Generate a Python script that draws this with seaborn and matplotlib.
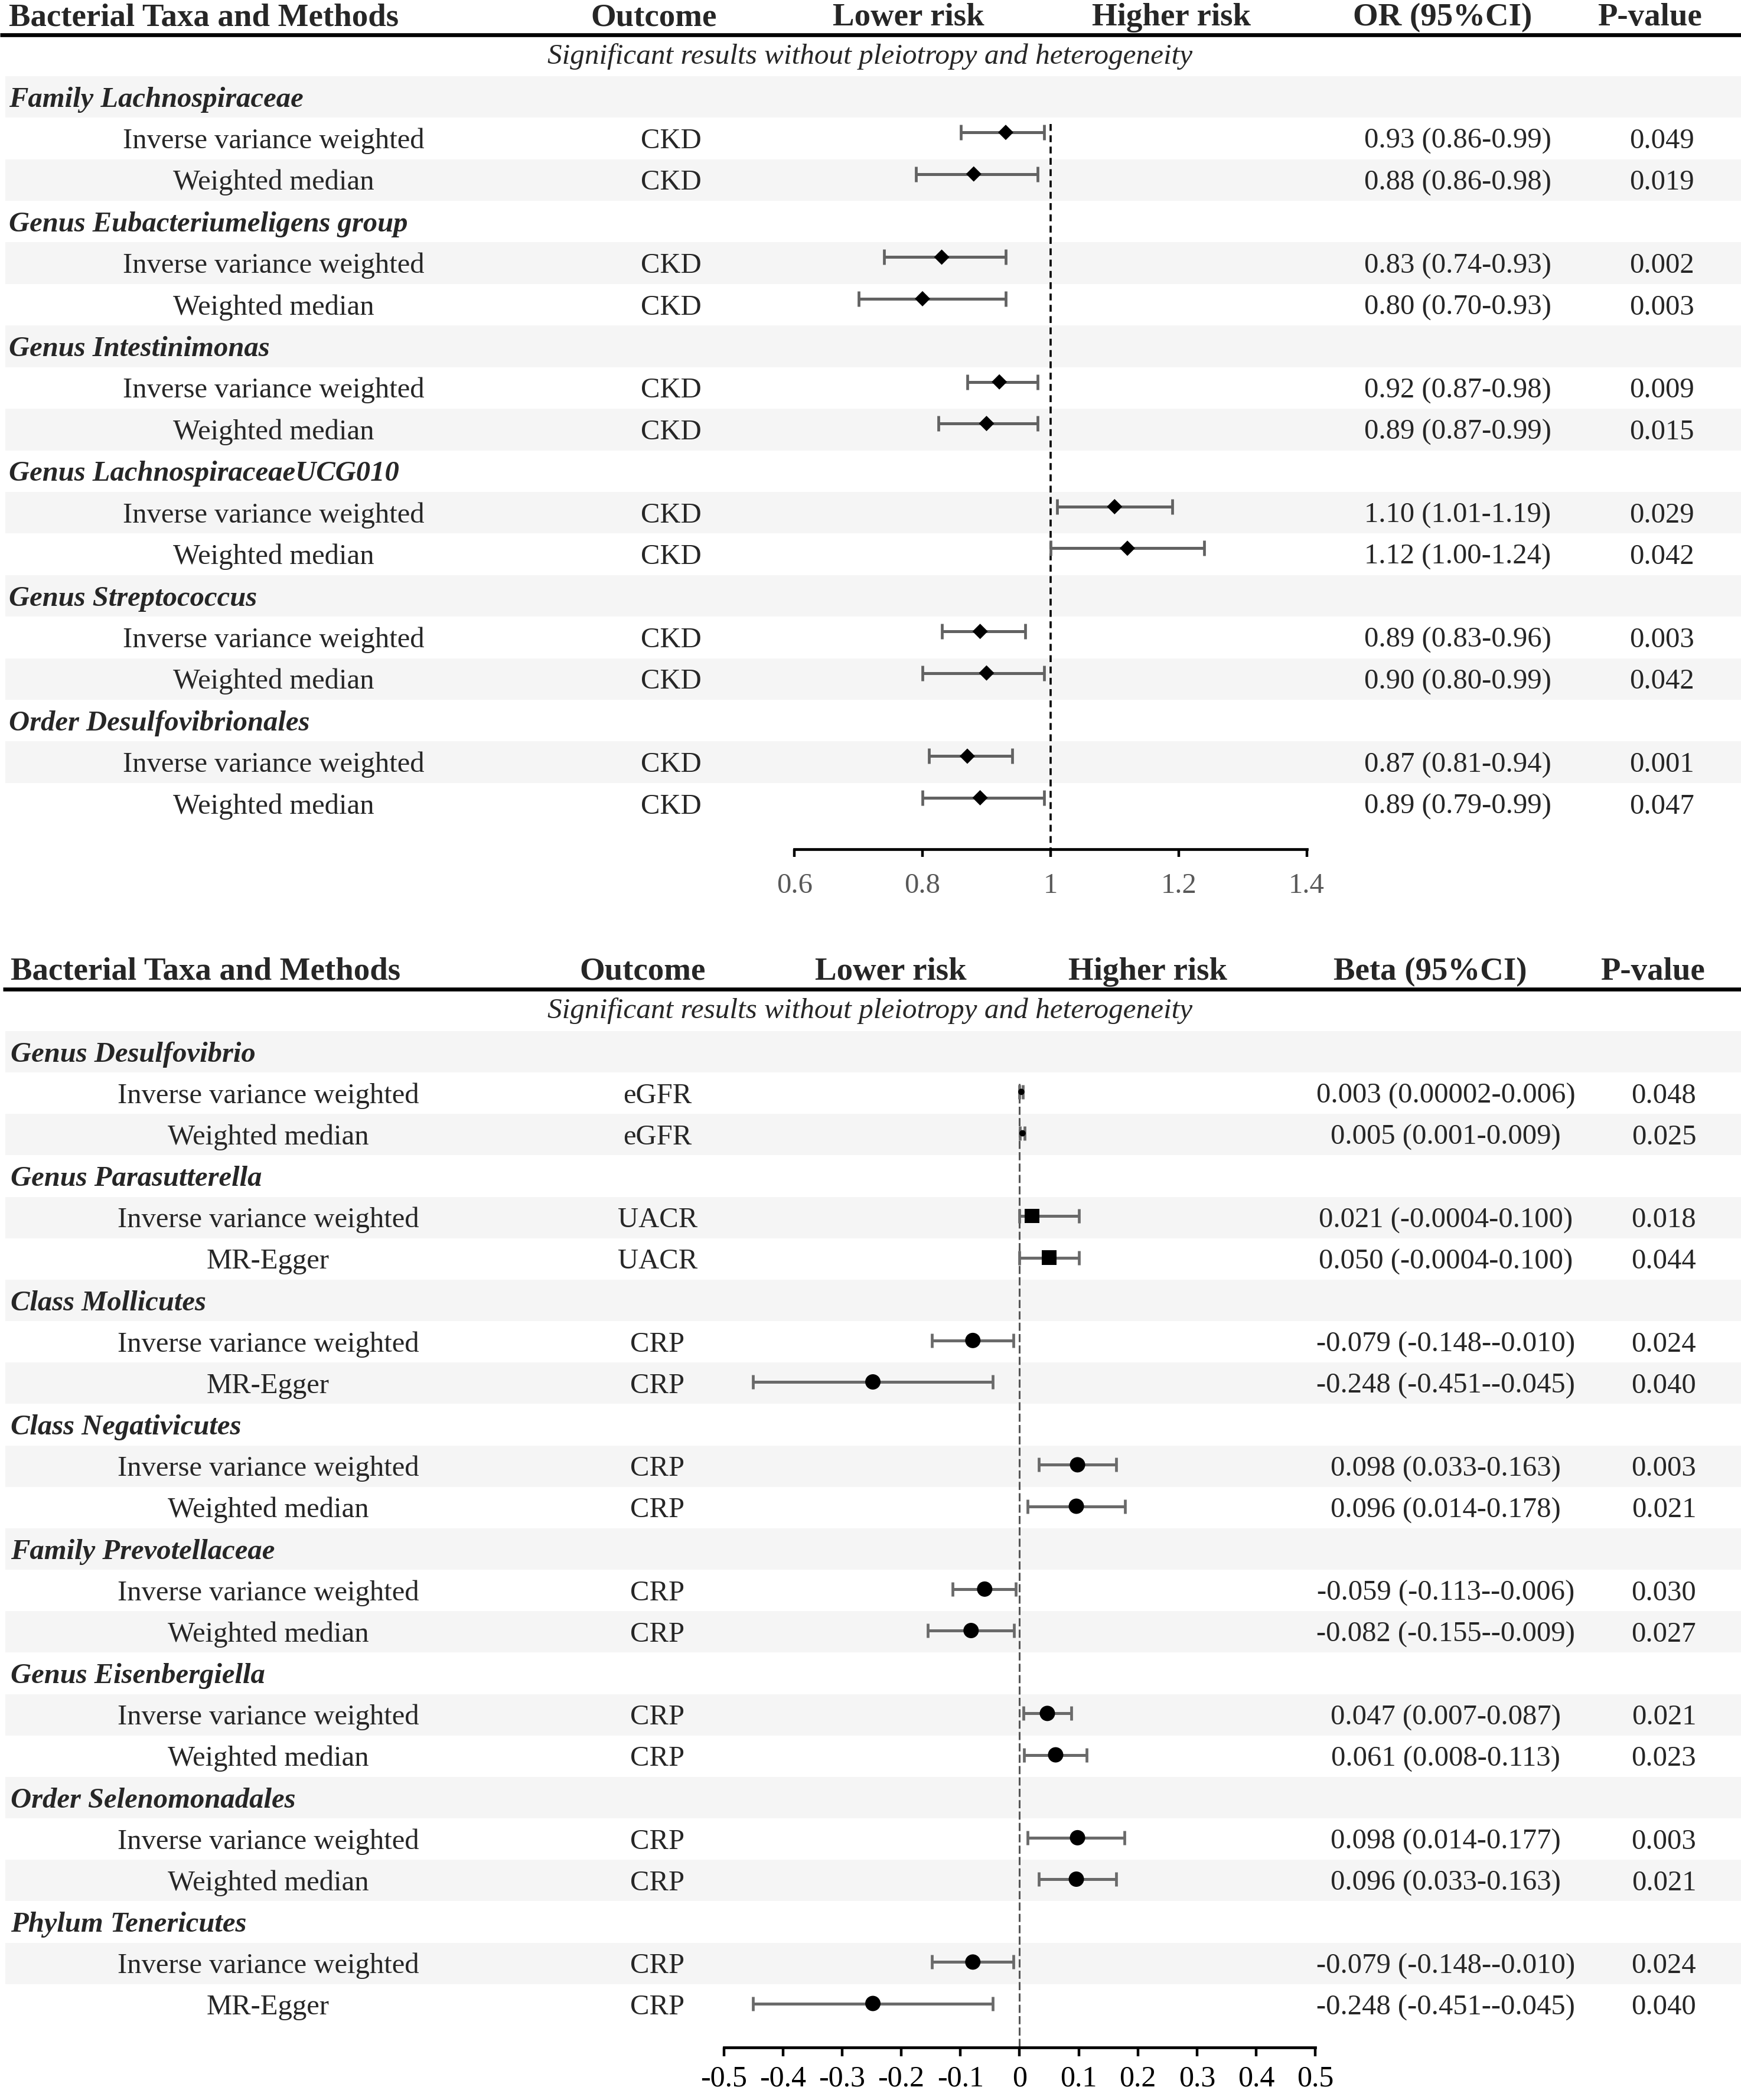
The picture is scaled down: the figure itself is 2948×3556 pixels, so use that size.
import numpy as np
import pandas as pd
import matplotlib
matplotlib.use("Agg")
import matplotlib.pyplot as plt
import seaborn as sns

sns.set_theme(style="white")
plt.rcParams["font.family"] = ["Liberation Serif", "DejaVu Serif"]

# ---------------------------------------------------------------- data: top panel (OR)
top_groups = ["Family Lachnospiraceae", "Genus Eubacteriumeligens group", "Genus Intestinimonas",
              "Genus LachnospiraceaeUCG010", "Genus Streptococcus", "Order Desulfovibrionales"]
top_methods = ["Inverse variance weighted", "Weighted median"] * 6
top_outcomes = ["CKD"] * 12
top_or = [0.93, 0.88, 0.83, 0.80, 0.92, 0.90, 1.10, 1.12, 0.89, 0.90, 0.87, 0.89]
top_lo = [0.86, 0.79, 0.74, 0.70, 0.87, 0.825, 1.01, 1.00, 0.83, 0.80, 0.81, 0.80]
top_hi = [0.99, 0.98, 0.93, 0.93, 0.98, 0.98, 1.19, 1.24, 0.96, 0.99, 0.94, 0.99]
top_ci_text = ["0.93 (0.86-0.99)", "0.88 (0.86-0.98)", "0.83 (0.74-0.93)", "0.80 (0.70-0.93)",
               "0.92 (0.87-0.98)", "0.89 (0.87-0.99)", "1.10 (1.01-1.19)", "1.12 (1.00-1.24)",
               "0.89 (0.83-0.96)", "0.90 (0.80-0.99)", "0.87 (0.81-0.94)", "0.89 (0.79-0.99)"]
top_p = ["0.049", "0.019", "0.002", "0.003", "0.009", "0.015",
         "0.029", "0.042", "0.003", "0.042", "0.001", "0.047"]
top_ticks = [0.6, 0.8, 1.0, 1.2, 1.4]
top_tick_labels = ["0.6", "0.8", "1", "1.2", "1.4"]
top_headers = ["Bacterial Taxa and Methods", "Outcome", "Lower risk", "Higher risk", "OR (95%CI)", "P-value"]

# ---------------------------------------------------------------- data: bottom panel (Beta)
bot_groups = ["Genus Desulfovibrio", "Genus Parasutterella", "Class Mollicutes", "Class Negativicutes",
              "Family Prevotellaceae", "Genus Eisenbergiella", "Order Selenomonadales", "Phylum Tenericutes"]
bot_methods = ["Inverse variance weighted", "Weighted median",
               "Inverse variance weighted", "MR-Egger",
               "Inverse variance weighted", "MR-Egger",
               "Inverse variance weighted", "Weighted median",
               "Inverse variance weighted", "Weighted median",
               "Inverse variance weighted", "Weighted median",
               "Inverse variance weighted", "Weighted median",
               "Inverse variance weighted", "MR-Egger"]
bot_outcomes = ["eGFR", "eGFR", "UACR", "UACR"] + ["CRP"] * 12
bot_beta = [0.003, 0.005, 0.021, 0.050, -0.079, -0.248, 0.098, 0.096,
            -0.059, -0.082, 0.047, 0.061, 0.098, 0.096, -0.079, -0.248]
bot_lo = [0.00002, 0.001, -0.0004, -0.0004, -0.148, -0.451, 0.033, 0.014,
          -0.113, -0.155, 0.007, 0.008, 0.014, 0.033, -0.148, -0.451]
bot_hi = [0.006, 0.009, 0.100, 0.100, -0.010, -0.045, 0.163, 0.178,
          -0.006, -0.009, 0.087, 0.113, 0.177, 0.163, -0.010, -0.045]
bot_ci_text = ["0.003 (0.00002-0.006)", "0.005 (0.001-0.009)",
               "0.021 (-0.0004-0.100)", "0.050 (-0.0004-0.100)",
               "-0.079 (-0.148--0.010)", "-0.248 (-0.451--0.045)",
               "0.098 (0.033-0.163)", "0.096 (0.014-0.178)",
               "-0.059 (-0.113--0.006)", "-0.082 (-0.155--0.009)",
               "0.047 (0.007-0.087)", "0.061 (0.008-0.113)",
               "0.098 (0.014-0.177)", "0.096 (0.033-0.163)",
               "-0.079 (-0.148--0.010)", "-0.248 (-0.451--0.045)"]
bot_p = ["0.048", "0.025", "0.018", "0.044", "0.024", "0.040", "0.003", "0.021",
         "0.030", "0.027", "0.021", "0.023", "0.003", "0.021", "0.024", "0.040"]
bot_ticks = [-0.5, -0.4, -0.3, -0.2, -0.1, 0.0, 0.1, 0.2, 0.3, 0.4, 0.5]
bot_tick_labels = ["-0.5", "-0.4", "-0.3", "-0.2", "-0.1", "0", "0.1", "0.2", "0.3", "0.4", "0.5"]
bot_headers = ["Bacterial Taxa and Methods", "Outcome", "Lower risk", "Higher risk", "Beta (95%CI)", "P-value"]

subtitle = "Significant results without pleiotropy and heterogeneity"

# ---------------------------------------------------------------- layout (reference units: 1300 x 1568)
W, H = 1300.0, 1568.0
fig = plt.figure(figsize=(29.48, 35.56), dpi=100)
bg = fig.add_axes([0, 0, 1, 1])
bg.set_xlim(0, W)
bg.set_ylim(H, 0)
bg.axis("off")

BAND = "#F5F5F5"
FS = 35
FS_HEAD = 39.5
FS_SUB = 35.5


def build_rows(groups, methods, per_group=2):
    rows, k = [], 0
    for g in groups:
        rows.append(("group", g, None))
        for _ in range(per_group):
            rows.append(("item", methods[k], k))
            k += 1
    return rows


def draw_panel(cfg):
    rows = build_rows(cfg["groups"], cfg["methods"])
    y0, pitch = cfg["row0"], cfg["pitch"]
    # header
    hx = cfg["head_x"]
    bg.text(hx[0], cfg["head_base"], cfg["headers"][0], ha="left", va="baseline",
            fontsize=FS_HEAD, fontweight="bold")
    for x, s in zip(hx[1:], cfg["headers"][1:]):
        bg.text(x, cfg["head_base"], s, ha="center", va="baseline",
                fontsize=FS_HEAD, fontweight="bold")
    bg.plot([cfg["line_x0"], W], [cfg["line_y"], cfg["line_y"]], color="black", lw=4.8,
            solid_capstyle="butt")
    bg.text(649.5, cfg["sub_base"], subtitle, ha="center", va="baseline",
            fontsize=FS_SUB, style="italic")
    # bands + text
    item_pos = {}
    for i, (kind, label, k) in enumerate(rows):
        yc = y0 + pitch * i
        if i % 2 == 0:
            bg.axhspan(yc - pitch / 2, yc + pitch / 2, xmin=4 / W, xmax=1.0,
                       color=BAND, lw=0, zorder=0)
        yb = yc + 7.3
        if kind == "group":
            bg.text(cfg["grp_x"], yb, label, ha="left", va="baseline", fontsize=FS,
                    fontweight="bold", style="italic")
        else:
            item_pos[k] = i
            cx = cfg["col_x"]
            bg.text(cx[0], yb, label, ha="center", va="baseline", fontsize=FS)
            bg.text(cx[1], yb, cfg["outcomes"][k], ha="center", va="baseline", fontsize=FS)
            bg.text(cx[2], yb, cfg["ci_text"][k], ha="center", va="baseline", fontsize=FS)
            bg.text(cx[3], yb, cfg["p"][k], ha="center", va="baseline", fontsize=FS)

    # forest axes
    ax0, ax1 = cfg["axis_x"]
    top_d, bot_d = y0 - pitch / 2, cfg["axis_y"]
    ax = fig.add_axes([ax0 / W, 1 - bot_d / H, (ax1 - ax0) / W, (bot_d - top_d) / H])
    ax.patch.set_alpha(0)
    off = cfg["marker_off"]
    ybot = (bot_d - (y0 - off)) / pitch
    ytop = (top_d - (y0 - off)) / pitch
    df = pd.DataFrame({
        "est": cfg["est"], "lo": cfg["lo"], "hi": cfg["hi"],
        "outcome": cfg["outcomes"],
        "ypos": [item_pos[k] for k in range(len(cfg["est"]))],
    })
    ax.plot([cfg["ref"], cfg["ref"]], [0.8, ybot], color=cfg["ref_color"], lw=cfg["ref_lw"],
            linestyle=cfg["ref_dash"], zorder=1, solid_capstyle="butt")
    ax.errorbar(df["est"], df["ypos"], xerr=[df["est"] - df["lo"], df["hi"] - df["est"]],
                fmt="none", ecolor=cfg["bar_color"], elinewidth=3.6, capsize=cfg["capsize"],
                capthick=3.4, zorder=2)
    sns.scatterplot(data=df, x="est", y="ypos", style="outcome", markers=cfg["markers"],
                    size="outcome", sizes=cfg["sizes"], color="black", edgecolor="black",
                    linewidth=0, legend=False, ax=ax, zorder=3)
    ax.set_xlim(*cfg["xlim"])
    ax.set_ylim(ybot, ytop)
    ax.set_yticks([])
    ax.set_xlabel("")
    ax.set_ylabel("")
    for s in ["top", "left", "right"]:
        ax.spines[s].set_visible(False)
    ax.spines["bottom"].set_visible(True)
    ax.spines["bottom"].set_color("black")
    ax.spines["bottom"].set_linewidth(3.4)
    ax.set_xticks(cfg["ticks"])
    ax.set_xticklabels(cfg["tick_labels"])
    ax.tick_params(axis="x", bottom=True, direction="out", length=cfg["tick_len"], width=3.2,
                   color="black", pad=cfg["tick_pad"], labelsize=cfg["tick_fs"],
                   labelcolor=cfg["tick_color"])
    ax.grid(False)


draw_panel(dict(
    groups=top_groups, methods=top_methods, outcomes=top_outcomes,
    est=top_or, lo=top_lo, hi=top_hi, ci_text=top_ci_text, p=top_p,
    headers=top_headers, head_x=[6.6, 488, 678.5, 874.5, 1077, 1232], head_base=19.0,
    line_x0=0, line_y=25.8, sub_base=47.8,
    row0=72.3, pitch=31.05, grp_x=6.6, col_x=[204.4, 501, 1088.5, 1241],
    axis_x=(593.2, 975.7), axis_y=634.2, marker_off=4.5,
    ref=1.0, ref_color="black", ref_lw=2.6, ref_dash=(0, (3.2, 2.1)),
    bar_color="#626262", capsize=9.7,
    markers={"CKD": "D"}, sizes={"CKD": 175},
    xlim=(0.6, 1.4), ticks=top_ticks, tick_labels=top_tick_labels,
    tick_len=9.6, tick_pad=19, tick_fs=35, tick_color="#595959",
))

draw_panel(dict(
    groups=bot_groups, methods=bot_methods, outcomes=bot_outcomes,
    est=bot_beta, lo=bot_lo, hi=bot_hi, ci_text=bot_ci_text, p=bot_p,
    headers=bot_headers, head_x=[8, 480, 665, 857, 1068, 1234], head_base=731.5,
    line_x0=2, line_y=738.4, sub_base=760.0,
    row0=785.3, pitch=30.94, grp_x=8, col_x=[200.2, 491, 1079.6, 1242.4],
    axis_x=(540.5, 982.1), axis_y=1528.6, marker_off=1.0,
    ref=0.0, ref_color="#555555", ref_lw=2.2, ref_dash=(0, (4.5, 1.8)),
    bar_color="#6a6a6a", capsize=8.3,
    markers={"eGFR": "o", "UACR": "s", "CRP": "o"},
    sizes={"eGFR": 60, "UACR": 306, "CRP": 350},
    xlim=(-0.5, 0.5), ticks=bot_ticks, tick_labels=bot_tick_labels,
    tick_len=10.8, tick_pad=11, tick_fs=36, tick_color="black",
))

fig.savefig("out.png", dpi=100, facecolor="white")
